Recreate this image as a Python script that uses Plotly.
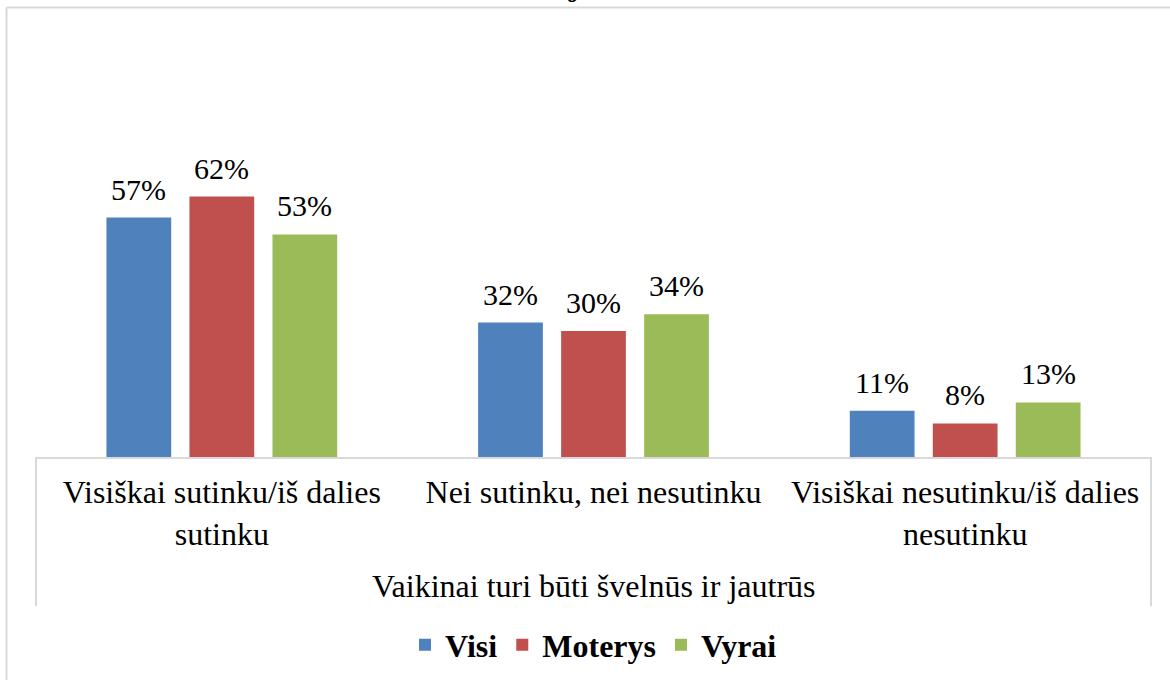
import plotly.graph_objects as go

categories = ["Visiškai sutinku/iš dalies sutinku", "Nei sutinku, nei nesutinku", "Visiškai nesutinku/iš dalies nesutinku"]
tick_labels = ["Visiškai sutinku/iš dalies<br>sutinku", "Nei sutinku, nei nesutinku", "Visiškai nesutinku/iš dalies<br>nesutinku"]
group_title = "Vaikinai turi būti švelnūs ir jautrūs"
series_names = ["Visi", "Moterys", "Vyrai"]
visi = [0.57, 0.32, 0.11]
moterys = [0.62, 0.30, 0.08]
vyrai = [0.53, 0.34, 0.13]
colors = ["#4F81BD", "#C0504D", "#9BBB59"]

FONT = "Liberation Serif"
W, H = 1170, 680
L, R, T, B = 36, 19, 37, 223
plot_h = H - T - B
BARGAP = 0.33
cat_px = (W - L - R) / len(categories)
slot_px = cat_px * (1 - BARGAP) / len(series_names)

def py(pix):
    return (H - B - pix) / plot_h

def px(pix):
    return (pix - L) / (W - L - R)

fig = go.Figure()
annotations = []
for k, (name, vals, col) in enumerate(zip(series_names, [visi, moterys, vyrai], colors)):
    fig.add_trace(go.Bar(
        name=name, x=categories, y=vals, marker=dict(color=col, line=dict(width=0)),
    ))
    for c, v in zip(categories, vals):
        annotations.append(dict(
            text=f"{round(v*100)}%", x=c, y=v, xref="x", yref="y",
            xanchor="center", yanchor="bottom", showarrow=False,
            xshift=(k - 1) * slot_px, yshift=11, borderpad=0,
            font=dict(family=FONT, size=30, color="#000000"),
        ))

line_col = "#D9D9D9"
shapes = [
    dict(type="line", xref="paper", yref="paper", x0=px(6.5), x1=px(1175), y0=py(7.5), y1=py(7.5),
         line=dict(color=line_col, width=2)),
    dict(type="line", xref="paper", yref="paper", x0=px(6.5), x1=px(6.5), y0=py(7.5), y1=py(690),
         line=dict(color=line_col, width=2)),
    dict(type="line", xref="paper", yref="paper", x0=0, x1=0, y0=0, y1=py(606),
         line=dict(color=line_col, width=2)),
    dict(type="line", xref="paper", yref="paper", x0=1, x1=1, y0=0, y1=py(606),
         line=dict(color=line_col, width=2)),
]

annotations.append(dict(
    text=group_title, xref="paper", yref="paper", x=0.5, y=py(586),
    xanchor="center", yanchor="middle", showarrow=False,
    font=dict(family=FONT, size=32, color="#000000"),
))
# cut-off chart title fragment at the very top
annotations.append(dict(
    text="j", xref="paper", yref="paper", x=px(574), y=py(4),
    xanchor="center", yanchor="bottom", showarrow=False, borderpad=0,
    font=dict(family="DejaVu Serif", size=28, color="#000000"),
))

fig.update_layout(
    width=W, height=H,
    margin=dict(l=L, r=R, t=T, b=B, autoexpand=False),
    paper_bgcolor="white", plot_bgcolor="white",
    barmode="group", bargap=BARGAP, bargroupgap=0.22,
    font=dict(family=FONT, color="#000000"),
    xaxis=dict(
        type="category", tickmode="array", tickvals=categories, ticktext=tick_labels,
        tickfont=dict(family=FONT, size=32, color="#000000"), tickangle=0, automargin=False,
        showline=True, linecolor=line_col, linewidth=2,
        ticks="outside", ticklen=6, tickcolor="rgba(0,0,0,0)",
        showgrid=False, zeroline=False, fixedrange=True,
    ),
    yaxis=dict(visible=False, range=[0, 1], fixedrange=True),
    showlegend=True,
    legend=dict(
        orientation="h", x=0.5, xanchor="center", y=py(645), yanchor="middle",
        font=dict(family=FONT, size=32, color="#000000", weight="bold"),
        itemclick=False, itemdoubleclick=False, traceorder="normal",
    ),
    shapes=shapes,
    annotations=annotations,
)

post = (
    "document.body.style.margin='0';document.body.style.overflow='hidden';"
)
fig.write_html("out.html", config={"displayModeBar": False}, post_script=post)
